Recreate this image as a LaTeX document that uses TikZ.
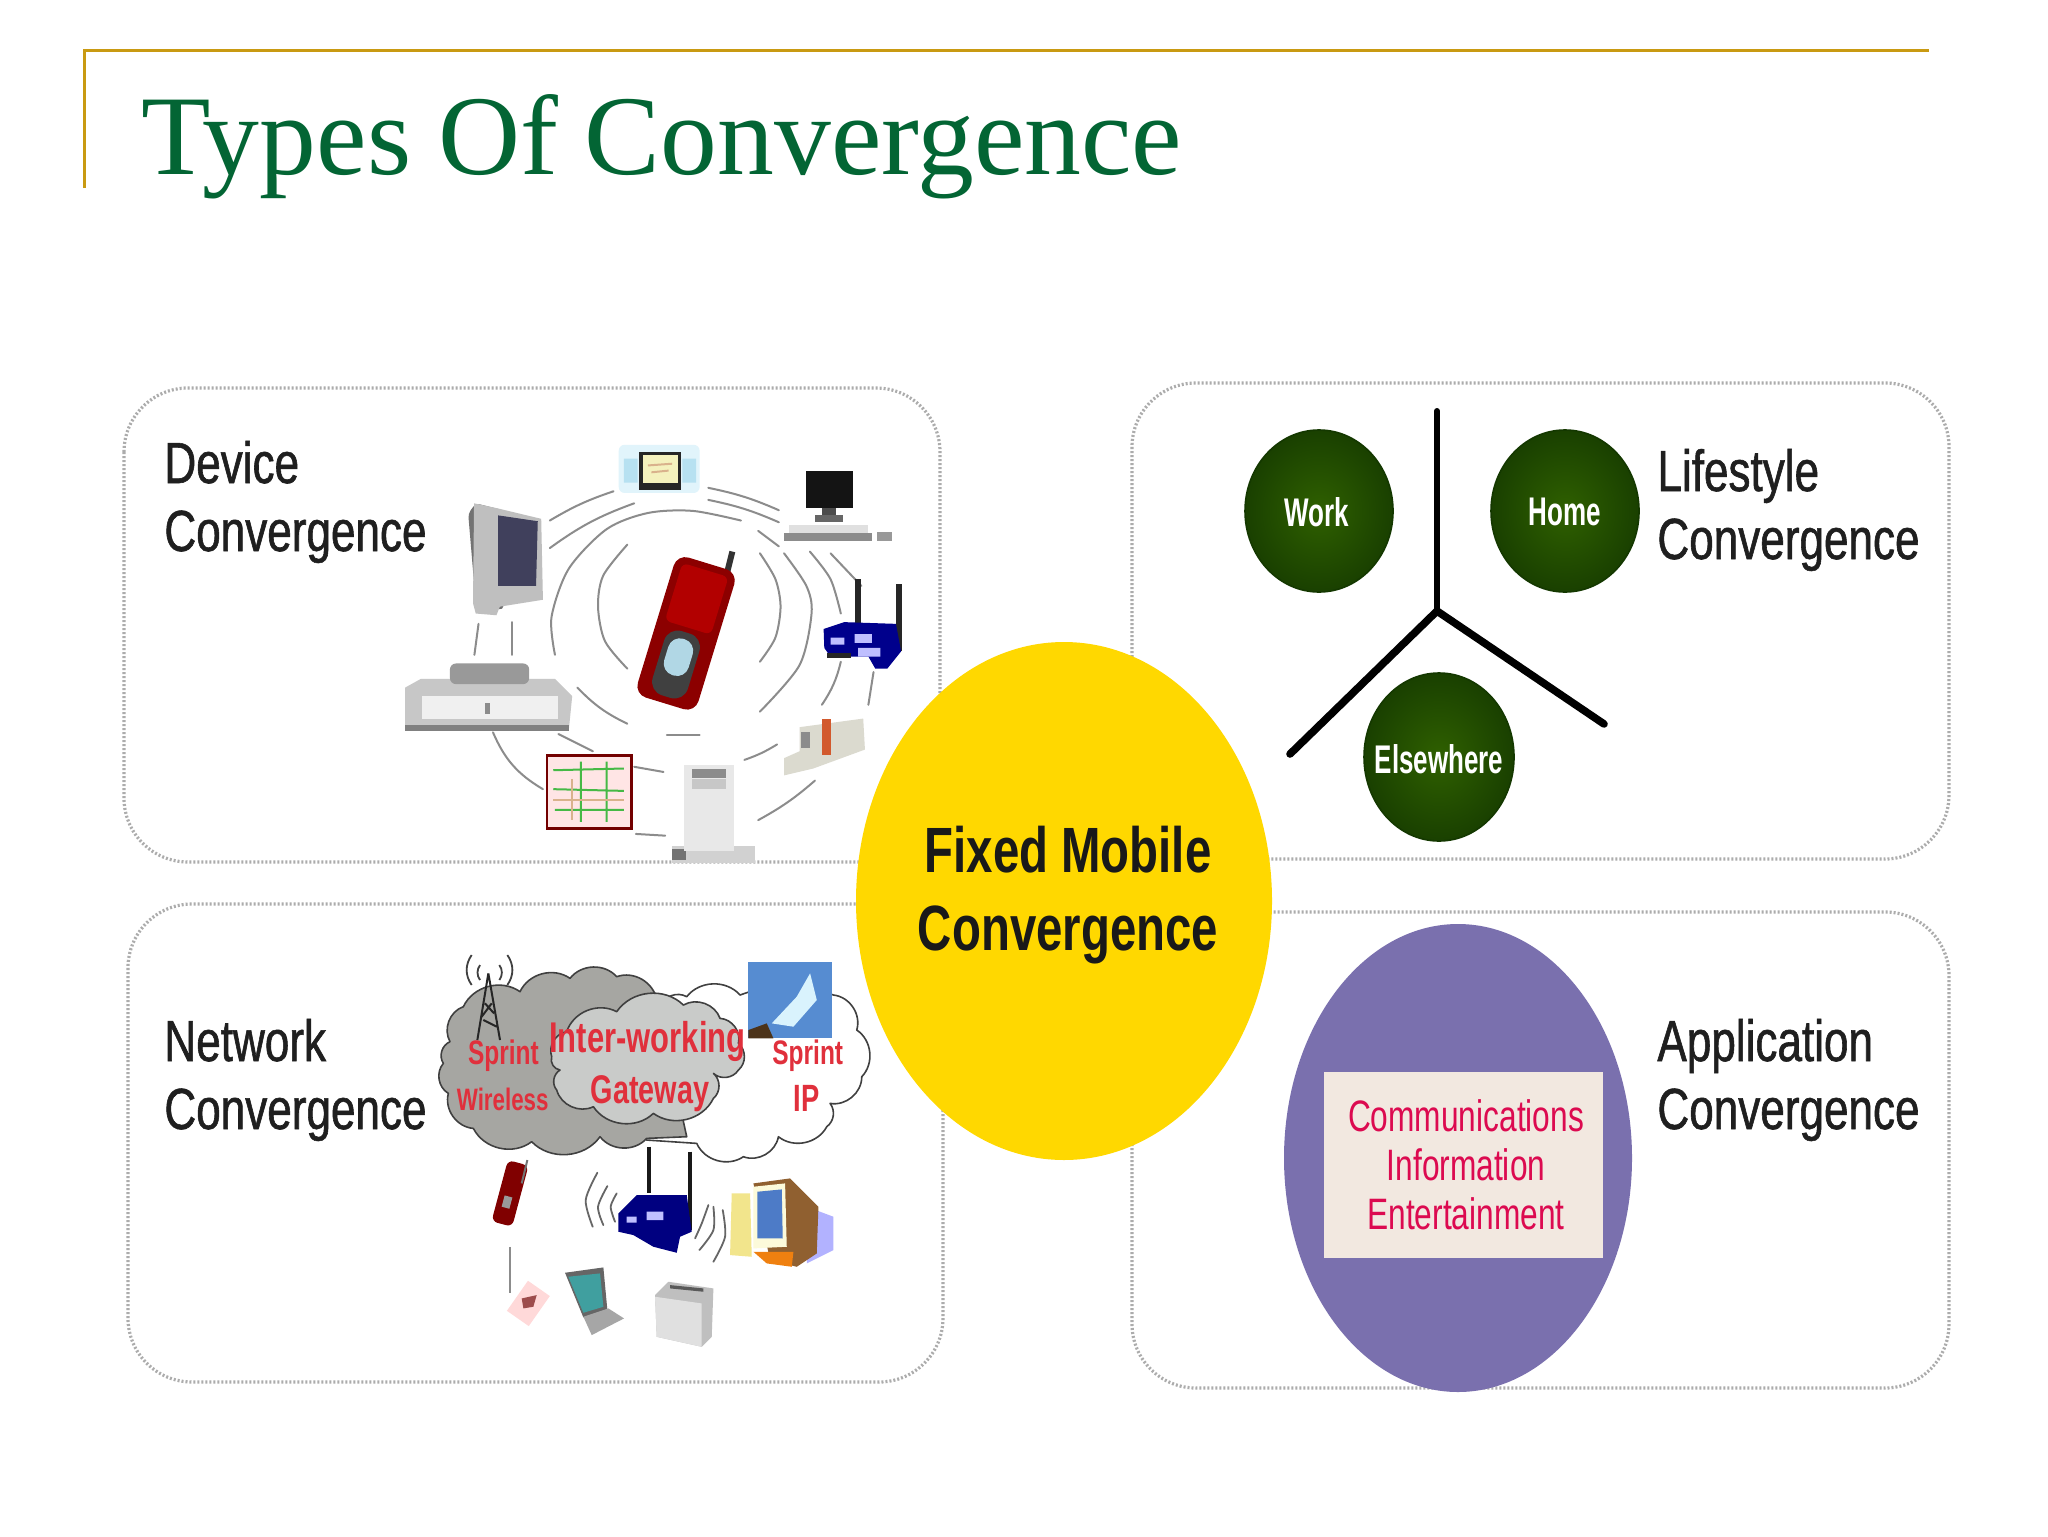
\documentclass[tikz,border=0pt]{standalone}
\usepackage{fontspec}
\usetikzlibrary{shapes.geometric}
\setmainfont{Liberation Sans}
\newfontfamily\titlefont[WordSpace=0.95]{Liberation Serif}
\newfontfamily\narrowfont[FakeStretch=0.76,FakeBold=1]{Liberation Sans}
\newfontfamily\narrowbold[FakeStretch=0.74]{Liberation Sans}
\newfontfamily\tightfont[FakeStretch=0.72]{Liberation Sans}
\newfontfamily\ballfont[FakeStretch=0.65]{Liberation Sans}
\definecolor{titlegreen}{HTML}{036534}
\definecolor{goldline}{HTML}{C99A12}
\definecolor{dotgray}{HTML}{ACACAC}
\definecolor{sunyellow}{HTML}{FFD800}
\definecolor{leaf}{HTML}{2F6000}
\definecolor{leafdark}{HTML}{143800}
\definecolor{violetfill}{HTML}{7A70AE}
\definecolor{crimsontext}{HTML}{DC0A50}
\definecolor{boxbeige}{HTML}{F2E8E0}
\definecolor{cloudgray}{HTML}{A6A6A2}
\definecolor{cloudlight}{HTML}{C9CBC9}
\definecolor{redlabel}{HTML}{E0303C}
\tikzset{
  panel/.style={draw=dotgray,line width=1.6pt,dash pattern=on 1pt off 1pt,rounded corners=32pt,fill=white},
  bigtext/.style={inner sep=0,align=left,anchor=west,text=black!88,font=\narrowfont\fontsize{29}{34}\selectfont},
  ballfill/.style={inner color=leaf,outer color=leafdark!80!leaf,draw=leafdark,line width=.8pt},
  balltext/.style={inner sep=0,text=white,font=\ballfont\bfseries\fontsize{20}{24}\selectfont},
  wave/.style={draw=black!45,line width=1pt,line cap=round},
  darkwave/.style={draw=black!60,line width=.9pt,line cap=round},
  redcloud/.style={inner sep=0,text=redlabel,font=\tightfont\bfseries},
  cloudline/.style={draw=black!75,line width=.8pt,line join=round},
}
\begin{document}
\begin{tikzpicture}[x=.5pt,y=-.5pt]
\useasboundingbox (0,0) rectangle (2048,1536);
\fill[white] (0,0) rectangle (2048,1536);
% title
\draw[goldline,line width=1.5pt] (84,188) -- (84,51) -- (1929,51);
\node[anchor=base west,inner sep=0,text=titlegreen,font=\titlefont\fontsize{56.8}{60}\selectfont] (title) at (141,174) {Types Of Convergence};
% panels
\draw[panel] (124,388) rectangle (940,862);
\draw[panel] (128,904) rectangle (943,1382);
\draw[panel] (1132,383) rectangle (1949,859);
\draw[panel] (1132,912) rectangle (1949,1388);
% labels
\node[bigtext] (dev) at (164,502) {Device\\Convergence};
\node[bigtext] (net) at (164,1080) {Network\\Convergence};
\node[bigtext] (life) at (1657,510) {Lifestyle\\Convergence};
\node[bigtext] (app) at (1657,1080) {Application\\Convergence};
% device illustration (coordinates of the 540x480 crop)
\begin{scope}[shift={(400,400)},x=.1722pt,y=-.1722pt]
  % waves
  \draw[wave] plot[smooth] coordinates {(660,420) (590,510) (575,600) (595,700) (660,780)};
  \draw[wave] plot[smooth] coordinates {(1045,445) (1090,520) (1105,600) (1090,690) (1045,760)};
  \draw[wave] (775,972) -- (870,972);
  \draw[wave] plot[smooth] coordinates {(450,740) (440,630) (490,490) (600,375) (720,328) (850,322) (990,350)};
  \draw[wave] (515,835) to[bend right=10] (660,940);
  \draw[wave] (1040,380) -- (1100,425);
  \draw[wave] plot[smooth] coordinates {(1115,445) (1180,540) (1195,620) (1160,770) (1045,905)};
  \draw[wave] (435,350) to[bend left=6] (620,265);
  \draw[wave] (435,430) to[bend left=8] (680,300);
  \draw[wave] (895,255) to[bend left=6] (1100,320);
  \draw[wave] (895,290) to[bend left=6] (1100,355);
  \draw[wave] plot[smooth] coordinates {(1190,440) (1250,520) (1280,620)};
  \draw[wave] (1280,760) to[bend left=10] (1225,885);
  \draw[wave] (1250,445) -- (1340,540);
  \draw[wave] (1375,790) -- (1360,885);
  \draw[wave] (1000,1045) to[bend right=6] (1095,1000);
  \draw[wave] (1040,1220) to[bend right=6] (1205,1105);
  \draw[wave] (228,650) -- (216,740);
  \draw[wave] (325,645) -- (325,740);
  \draw[wave] (270,965) to[bend right=18] (415,1130);
  \draw[wave] (460,970) -- (560,1020);
  \draw[wave] (680,1065) -- (765,1080);
  \draw[wave] (685,1260) -- (770,1265);
  % handheld
  \fill[black!10!cyan!12,rounded corners=3pt] (635,130) rectangle (870,270);
  \fill[black!15!cyan!30] (650,170) rectangle (690,240) (820,170) rectangle (860,240);
  \fill[black!85] (695,150) rectangle (815,262);
  \fill[yellow!25!white!90!gray] (705,160) rectangle (808,240);
  \draw[brown!60,line width=1pt] (720,190) -- (790,185) (730,210) -- (780,205);
  % desktop
  \fill[black!92] (1178,205) rectangle (1315,315);
  \fill[black!70] (1225,315) rectangle (1265,335);
  \fill[black!60] (1205,335) rectangle (1285,355);
  \fill[black!12] (1130,362) rectangle (1360,385);
  \fill[black!45] (1115,385) rectangle (1370,410);
  \fill[black!40] (1385,382) rectangle (1430,410);
  % monitor
  \fill[black!55,rounded corners=2pt] (198,330) -- (220,300) -- (300,320) -- (300,610) -- (220,590) -- cycle;
  \fill[black!25] (215,300) -- (285,315) -- (410,345) -- (415,580) -- (290,600) -- (280,625) -- (220,620) -- (212,590) -- cycle;
  \fill[blue!15!black!75] (285,335) -- (400,352) -- (395,540) -- (285,540) -- cycle;
  % set top box
  \fill[black!22] (15,835) -- (60,810) -- (450,810) -- (500,860) -- (490,960) -- (15,960) -- cycle;
  \fill[black!6] (65,860) rectangle (460,925);
  \fill[black!50] (15,945) rectangle (490,962);
  \fill[black!45] (248,880) rectangle (262,912);
  \fill[black!40,rounded corners=3pt] (145,765) rectangle (375,825);
  % phone
  \draw[black!80,line width=3pt] (945,520) -- (965,440);
  \begin{scope}[shift={(830,680)},rotate=-17]
    \fill[red!55!black,rounded corners=6pt] (-92,-215) rectangle (92,210);
    \fill[red!70!black,rounded corners=3pt] (-70,-195) rectangle (70,-20);
    \fill[black!75,rounded corners=7pt] (-55,-5) rectangle (52,190);
    \fill[cyan!30!white!80!gray,rounded corners=6pt] (-38,15) rectangle (36,125);
  \end{scope}
  % router
  \draw[black!85,line width=3pt] (1330,520) -- (1330,650) (1450,535) -- (1450,730);
  \fill[blue!55!black] (1230,665) -- (1290,645) -- (1440,650) -- (1455,730) -- (1415,780) -- (1380,780) -- (1360,745) -- (1250,745) -- (1232,720) -- cycle;
  \fill[blue!25!white] (1250,690) rectangle (1290,710) (1320,680) rectangle (1370,705) (1330,720) rectangle (1395,745);
  \fill[black!85] (1240,735) rectangle (1310,748);
  % camera
  \fill[black!20!yellow!8!white!85!black] (1160,950) -- (1345,925) -- (1350,1015) -- (1200,1070) -- (1115,1090) -- (1115,1040) -- (1160,1020) -- cycle;
  \fill[brown!70!red] (1225,925) rectangle (1250,1030);
  \fill[black!45] (1165,965) rectangle (1190,1010);
  % map
  \draw[red!45!black,line width=1.3pt,fill=red!10!white] (427,1032) rectangle (672,1245);
  \draw[green!45!gray,line width=1pt] (445,1130) -- (650,1135) (445,1075) -- (650,1070) (450,1190) -- (650,1190) (525,1050) -- (525,1225) (600,1050) -- (600,1225);
  \draw[brown!60,line width=1pt] (500,1100) -- (500,1220) (445,1160) -- (650,1160);
  % ipod
  \fill[black!18] (790,1295) rectangle (1030,1345);
  \fill[black!55] (790,1305) rectangle (830,1335);
  \fill[black!9] (825,1060) rectangle (970,1310);
  \fill[black!45] (848,1070) rectangle (948,1098);
  \fill[black!22] (848,1100) rectangle (948,1130);
\end{scope}
% network illustration (coordinates of the 480x440 crop)
\begin{scope}[shift={(420,930)},x=.1667pt,y=-.1667pt]
  % white cloud
  \draw[cloudline,fill=white] (680,630) to[bend left=50] (720,230) to[bend left=50] (800,200) to[bend left=50] (960,195)
     to[bend left=20] (1240,195) to[bend left=50] (1310,300) to[bend left=50] (1325,440) to[bend left=50] (1230,520)
     to[bend left=45] (1220,590) to[bend left=50] (1075,620) to[bend left=50] (970,680) to[bend left=50] (830,640) -- cycle;
  % grey cloud
  \draw[cloudline,fill=cloudgray] (90,335) to[bend left=50] (130,230) to[bend left=50] (300,185) to[bend left=50] (450,145)
     to[bend left=50] (590,140) to[bend left=50] (710,210) -- (800,620) -- (680,625) to[bend left=50] (540,620)
     to[bend left=50] (335,635) to[bend left=50] (160,595) to[bend left=50] (85,490) to[bend left=50] (70,400) to[bend left=50] (90,335) -- cycle;
  % gateway cloud
  \draw[cloudline,fill=cloudlight] (395,380) to[bend left=50] (440,305) to[bend left=50] (590,245) to[bend left=50] (790,225)
     to[bend left=50] (900,265) to[bend left=50] (955,340) to[bend left=50] (955,420) to[bend left=50] (880,430)
     to[bend left=50] (880,505) to[bend left=50] (700,550) to[bend left=50] (520,530) to[bend left=50] (410,480)
     to[bend left=50] (420,420) to[bend left=50] (395,380) -- cycle;
  % tower
  \draw[black!85,line width=1pt] (205,130) -- (172,330) (205,130) -- (240,330) (195,220) -- (222,250) (215,220) -- (185,260) (190,270) -- (230,290);
  \draw[black!75,line width=.9pt] (155,75) to[bend right=35] (155,165) (180,105) to[bend right=35] (180,150)
     (262,75) to[bend left=35] (262,165) (238,105) to[bend left=35] (238,150);
  % satellite picture
  \fill[cyan!50!blue!70!white] (985,97) rectangle (1235,325);
  \fill[white!85!cyan] (1055,280) -- (1130,200) -- (1170,130) -- (1190,210) -- (1120,290) -- cycle;
  \fill[black!60!brown] (985,325) -- (985,300) -- (1040,280) -- (1060,325) -- cycle;
  % cloud labels
  \node[redcloud,font=\tightfont\bfseries\fontsize{17}{21}\selectfont] (sp) at (250,378) {Sprint};
  \node[redcloud,font=\tightfont\bfseries\fontsize{15.5}{19}\selectfont] (wl) at (248,507) {Wireless};
  \node[redcloud,font=\tightfont\bfseries\fontsize{21.5}{25}\selectfont] (iw) at (682,333) {Inter-working};
  \node[redcloud,font=\tightfont\bfseries\fontsize{20}{24}\selectfont] (gw) at (690,490) {Gateway};
  \node[redcloud,font=\tightfont\bfseries\fontsize{17}{21}\selectfont] (sp2) at (1163,378) {Sprint};
  \node[redcloud,font=\tightfont\bfseries\fontsize{19}{23}\selectfont] (ip) at (1160,505) {IP};
  % phone
  \begin{scope}[shift={(270,790)},rotate=-15]
    \fill[red!50!black,rounded corners=3pt] (-32,-95) rectangle (32,95);
    \fill[black!40] (-14,10) rectangle (10,45);
  \end{scope}
  \draw[black!55,line width=1pt] (322,690) -- (305,760);
  % router
  \draw[black!90,line width=2pt] (688,650) -- (688,790) (810,665) -- (810,900);
  \fill[blue!50!black] (595,850) -- (650,795) -- (800,795) -- (815,905) -- (780,920) -- (770,968) -- (700,950) -- (640,915) -- (595,905) -- cycle;
  \fill[blue!25!white] (620,860) rectangle (650,878) (680,845) rectangle (730,870);
  % router waves
  \draw[darkwave] plot[smooth] coordinates {(532,728) (497,810) (518,890)};
  \draw[darkwave] plot[smooth] coordinates {(562,768) (534,830) (550,885)};
  \draw[darkwave] plot[smooth] coordinates {(590,790) (572,830) (585,875)};
  \draw[darkwave] plot[smooth] coordinates {(865,825) (845,880) (825,925)};
  \draw[darkwave] plot[smooth] coordinates {(880,830) (880,900) (838,960)};
  \draw[darkwave] plot[smooth] coordinates {(908,840) (915,920) (880,995)};
  % computer
  \fill[blue!30!white] (1160,830) -- (1240,860) -- (1240,960) -- (1160,1000) -- cycle;
  \fill[brown!75!black] (1000,760) -- (1110,745) -- (1195,830) -- (1190,970) -- (1130,1010) -- (1050,990) -- cycle;
  \fill[black!10!yellow!15!white] (1000,770) -- (1095,760) -- (1100,950) -- (1000,955) -- cycle;
  \fill[cyan!40!blue!75!white] (1012,785) -- (1085,778) -- (1088,925) -- (1012,925) -- cycle;
  \fill[brown!40!yellow!50!white] (935,790) -- (990,790) -- (995,980) -- (930,975) -- cycle;
  \fill[orange!75!brown] (1000,965) -- (1120,965) -- (1115,1010) -- (1040,1000) -- cycle;
  % PDA
  \draw[black!45,line width=.8pt] (270,950) -- (270,1090);
  \fill[red!15!white,rotate around={-35:(325,1120)}] (285,1065) rectangle (365,1175);
  \fill[red!45!black!70!white] (305,1105) -- (350,1095) -- (340,1130) -- (310,1135) -- cycle;
  % laptop
  \fill[black!60] (435,1028) -- (550,1012) -- (562,1140) -- (490,1162) -- cycle;
  \fill[teal!75!white] (445,1040) -- (540,1030) -- (550,1130) -- (490,1148) -- cycle;
  \fill[black!35] (490,1160) -- (565,1135) -- (612,1165) -- (515,1215) -- cycle;
  % printer
  \fill[black!25] (705,1095) -- (745,1055) -- (880,1075) -- (875,1220) -- (845,1250) -- (710,1220) -- cycle;
  \fill[black!12] (705,1100) -- (845,1120) -- (845,1250) -- (710,1220) -- cycle;
  \fill[black!65] (750,1065) -- (850,1075) -- (850,1085) -- (750,1075) -- cycle;
\end{scope}
% centre ellipse
\node[ellipse,fill=sunyellow,minimum width=208pt,minimum height=259pt,inner sep=0] (fmc) at (1064,901) {};
\node[inner sep=0,align=center,text=black!90,font=\narrowbold\bfseries\fontsize{32}{39}\selectfont] (fmctext) at (1068,895) {Fixed Mobile\\Convergence};
% lifestyle
\draw[black,line width=3pt,line cap=round] (1437,411) -- (1437,611);
\draw[black,line width=3.8pt,line cap=round] (1290,754) -- (1437,611) -- (1604,724);
\shade[ballfill] (1319,511) ellipse [x radius=74,y radius=81];
\shade[ballfill] (1565,511) ellipse [x radius=74,y radius=81];
\shade[ballfill] (1439,757) ellipse [x radius=75,y radius=84];
\node[balltext] (work) at (1317,512) {Work};
\node[balltext] (home) at (1565,512) {Home};
\node[balltext] (else) at (1439,759) {Elsewhere};
% application
\node[ellipse,fill=violetfill,minimum width=174pt,minimum height=234pt,inner sep=0] (appball) at (1458,1158) {};
\node[fill=boxbeige,minimum width=139.5pt,minimum height=93pt,inner sep=0] (appbox) at (1463.5,1165) {};
\node[inner sep=0,align=center,text=crimsontext,font=\tightfont\fontsize{22}{24.5}\selectfont] (apptext) at (1466,1165) {Communications\\Information\\Entertainment};
\end{tikzpicture}
\end{document}
